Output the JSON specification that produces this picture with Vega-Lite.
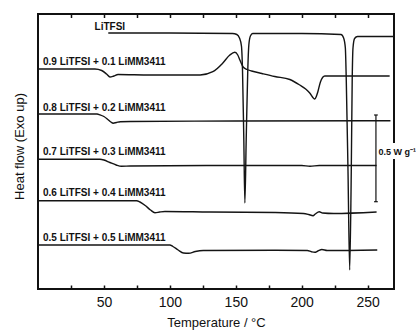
{
  "$schema": "https://vega.github.io/schema/vega-lite/v6.json",
  "width": 356,
  "height": 275,
  "autosize": "none",
  "padding": {"left": 38, "top": 14, "right": 22, "bottom": 42},
  "background": "white",
  "config": {
    "view": {"stroke": "#111", "strokeWidth": 2},
    "font": "Liberation Sans",
    "axisY": {"labels": false, "ticks": false, "domain": false, "grid": false, "titleFontSize": 13, "titleFontWeight": "normal", "titleColor": "#111", "titleFont": "Liberation Sans", "titlePadding": 12, "titleY": 132}
  },
  "datasets": {
    "curves": [
      {"s": "LiTFSI", "t": 53.3, "hf": 256}, {"s": "LiTFSI", "t": 100, "hf": 256}, {"s": "LiTFSI", "t": 147.5, "hf": 255.5},
      {"s": "LiTFSI", "t": 150.8, "hf": 254.5}, {"s": "LiTFSI", "t": 152.8, "hf": 251}, {"s": "LiTFSI", "t": 154.3, "hf": 243},
      {"s": "LiTFSI", "t": 155.1, "hf": 219}, {"s": "LiTFSI", "t": 156.1, "hf": 149}, {"s": "LiTFSI", "t": 156.9, "hf": 86},
      {"s": "LiTFSI", "t": 157.9, "hf": 149}, {"s": "LiTFSI", "t": 159.1, "hf": 219}, {"s": "LiTFSI", "t": 159.9, "hf": 244},
      {"s": "LiTFSI", "t": 161.1, "hf": 253}, {"s": "LiTFSI", "t": 162.8, "hf": 255.5}, {"s": "LiTFSI", "t": 200, "hf": 255.5},
      {"s": "LiTFSI", "t": 229.8, "hf": 254.5}, {"s": "LiTFSI", "t": 231.8, "hf": 251}, {"s": "LiTFSI", "t": 233.1, "hf": 241},
      {"s": "LiTFSI", "t": 233.8, "hf": 209}, {"s": "LiTFSI", "t": 235.1, "hf": 119}, {"s": "LiTFSI", "t": 236.4, "hf": 19},
      {"s": "LiTFSI", "t": 237.6, "hf": 119}, {"s": "LiTFSI", "t": 238.3, "hf": 209}, {"s": "LiTFSI", "t": 238.9, "hf": 241},
      {"s": "LiTFSI", "t": 240.1, "hf": 250.5}, {"s": "LiTFSI", "t": 242.3, "hf": 252.5}, {"s": "LiTFSI", "t": 270, "hf": 252.5},

      {"s": "0.9", "t": 0, "hf": 220}, {"s": "0.9", "t": 43.2, "hf": 220}, {"s": "0.9", "t": 48.3, "hf": 218.5},
      {"s": "0.9", "t": 52, "hf": 215}, {"s": "0.9", "t": 54.6, "hf": 212}, {"s": "0.9", "t": 57.5, "hf": 213},
      {"s": "0.9", "t": 60.7, "hf": 214.5}, {"s": "0.9", "t": 85, "hf": 214}, {"s": "0.9", "t": 123, "hf": 214},
      {"s": "0.9", "t": 132.6, "hf": 217.3}, {"s": "0.9", "t": 140.2, "hf": 226}, {"s": "0.9", "t": 145.5, "hf": 234},
      {"s": "0.9", "t": 149.3, "hf": 236.7}, {"s": "0.9", "t": 151.5, "hf": 234}, {"s": "0.9", "t": 153.1, "hf": 229},
      {"s": "0.9", "t": 155.6, "hf": 222}, {"s": "0.9", "t": 158.5, "hf": 219.5}, {"s": "0.9", "t": 162, "hf": 218},
      {"s": "0.9", "t": 169.8, "hf": 215.5}, {"s": "0.9", "t": 179.6, "hf": 212.5}, {"s": "0.9", "t": 191, "hf": 209.5},
      {"s": "0.9", "t": 198.5, "hf": 204}, {"s": "0.9", "t": 203, "hf": 200}, {"s": "0.9", "t": 206.1, "hf": 196},
      {"s": "0.9", "t": 209.9, "hf": 190}, {"s": "0.9", "t": 211.2, "hf": 193}, {"s": "0.9", "t": 212.2, "hf": 197},
      {"s": "0.9", "t": 214.2, "hf": 207}, {"s": "0.9", "t": 217.5, "hf": 213}, {"s": "0.9", "t": 225, "hf": 213},
      {"s": "0.9", "t": 266.7, "hf": 213},

      {"s": "0.8", "t": 0, "hf": 175}, {"s": "0.8", "t": 44.8, "hf": 175}, {"s": "0.8", "t": 47, "hf": 174.2},
      {"s": "0.8", "t": 50, "hf": 172.5}, {"s": "0.8", "t": 53, "hf": 169.5}, {"s": "0.8", "t": 55.3, "hf": 167},
      {"s": "0.8", "t": 57, "hf": 165.8}, {"s": "0.8", "t": 59.5, "hf": 166.5}, {"s": "0.8", "t": 62.3, "hf": 167.3},
      {"s": "0.8", "t": 70, "hf": 167.5}, {"s": "0.8", "t": 150, "hf": 168}, {"s": "0.8", "t": 267.3, "hf": 168.3},

      {"s": "0.7", "t": 0, "hf": 129.7}, {"s": "0.7", "t": 47, "hf": 129.7}, {"s": "0.7", "t": 50, "hf": 129},
      {"s": "0.7", "t": 54.5, "hf": 126.5}, {"s": "0.7", "t": 59.3, "hf": 124}, {"s": "0.7", "t": 63.3, "hf": 122.7},
      {"s": "0.7", "t": 70, "hf": 123}, {"s": "0.7", "t": 150, "hf": 123.5}, {"s": "0.7", "t": 200, "hf": 123.5},
      {"s": "0.7", "t": 206.3, "hf": 122.7}, {"s": "0.7", "t": 213.3, "hf": 123.5}, {"s": "0.7", "t": 256.8, "hf": 123.5},

      {"s": "0.6", "t": 0, "hf": 88.3}, {"s": "0.6", "t": 74.8, "hf": 88.3}, {"s": "0.6", "t": 77.3, "hf": 87},
      {"s": "0.6", "t": 81.3, "hf": 83.5}, {"s": "0.6", "t": 85.3, "hf": 79}, {"s": "0.6", "t": 88.7, "hf": 76.3},
      {"s": "0.6", "t": 92.3, "hf": 77}, {"s": "0.6", "t": 96.3, "hf": 77.5}, {"s": "0.6", "t": 130, "hf": 77},
      {"s": "0.6", "t": 180, "hf": 76.5}, {"s": "0.6", "t": 201.3, "hf": 75.5}, {"s": "0.6", "t": 205.3, "hf": 74.5},
      {"s": "0.6", "t": 208.6, "hf": 73.3}, {"s": "0.6", "t": 210.3, "hf": 75}, {"s": "0.6", "t": 213.3, "hf": 77.3},
      {"s": "0.6", "t": 215.8, "hf": 76}, {"s": "0.6", "t": 224.3, "hf": 75.5}, {"s": "0.6", "t": 256.8, "hf": 77},

      {"s": "0.5", "t": 0, "hf": 44}, {"s": "0.5", "t": 100, "hf": 44}, {"s": "0.5", "t": 102.3, "hf": 42.5},
      {"s": "0.5", "t": 106.3, "hf": 39}, {"s": "0.5", "t": 110.3, "hf": 36}, {"s": "0.5", "t": 114.3, "hf": 35.7},
      {"s": "0.5", "t": 119.3, "hf": 37.5}, {"s": "0.5", "t": 125.3, "hf": 38.5}, {"s": "0.5", "t": 180, "hf": 38.7},
      {"s": "0.5", "t": 204.3, "hf": 38.5}, {"s": "0.5", "t": 207.3, "hf": 37.3}, {"s": "0.5", "t": 209.9, "hf": 36.7},
      {"s": "0.5", "t": 212.3, "hf": 38}, {"s": "0.5", "t": 215.3, "hf": 39.5}, {"s": "0.5", "t": 219.3, "hf": 38.5},
      {"s": "0.5", "t": 257.3, "hf": 39}
    ],
    "labels": [
      {"txt": "LiTFSI", "t": 42.9, "hf": 262.5},
      {"txt": "0.9 LiTFSI + 0.1 LiMM3411", "t": 3.8, "hf": 227.3},
      {"txt": "0.8 LiTFSI + 0.2 LiMM3411", "t": 3.8, "hf": 180.7},
      {"txt": "0.7 LiTFSI + 0.3 LiMM3411", "t": 3.8, "hf": 137.3},
      {"txt": "0.6 LiTFSI + 0.4 LiMM3411", "t": 3.8, "hf": 95.7},
      {"txt": "0.5 LiTFSI + 0.5 LiMM3411", "t": 3.8, "hf": 51.3}
    ],
    "bar": [{"t": 256.3, "lo": 87.3, "hi": 174}],
    "caps": [{"t1": 254.9, "t2": 257.7, "v": 87.3}, {"t1": 254.9, "t2": 257.7, "v": 174}],
    "patch": [{"a": 258.6, "b": 283, "lo": 130, "hi": 146}],
    "barlabel": [{"txt": "0.5 W g⁻¹", "t": 258.2, "hf": 137}]
  },
  "layer": [
    {
      "data": {"name": "curves"},
      "mark": {"type": "line", "color": "#141414", "strokeWidth": 1.4, "interpolate": "monotone"},
      "encoding": {
        "x": {
          "field": "t", "type": "quantitative",
          "scale": {"domain": [0, 270], "nice": false, "zero": false},
          "axis": {
            "orient": "bottom",
            "values": [25, 50, 75, 100, 125, 150, 175, 200, 225, 250],
            "labelExpr": "datum.value % 50 === 0 ? datum.label : ''",
            "domain": false, "grid": false,
            "tickSize": -4,
            "tickColor": "#111", "tickWidth": 1.5,
            "labelFontSize": 14, "labelColor": "#111", "labelFont": "Liberation Sans", "labelPadding": 10,
            "title": "Temperature / °C", "titleFontSize": 13, "titleFontWeight": "normal",
            "titleColor": "#111", "titleFont": "Liberation Sans", "titleY": 27
          }
        },
        "y": {"field": "hf", "type": "quantitative", "title": "Heat flow (Exo up)", "scale": {"domain": [0, 275], "nice": false, "zero": false}},
        "detail": {"field": "s"}
      }
    },
    {
      "data": {"name": "labels"},
      "mark": {"type": "text", "align": "left", "baseline": "middle", "fontSize": 10, "fontWeight": "bold", "color": "#111", "font": "Liberation Sans"},
      "encoding": {
        "x": {"field": "t", "type": "quantitative", "scale": {"domain": [0, 270], "nice": false, "zero": false}, "axis": null},
        "y": {"field": "hf", "type": "quantitative", "title": "Heat flow (Exo up)", "scale": {"domain": [0, 275], "nice": false, "zero": false}},
        "text": {"field": "txt"}
      }
    },
    {
      "data": {"name": "bar"},
      "mark": {"type": "rule", "color": "#111", "strokeWidth": 1.2},
      "encoding": {
        "x": {
          "field": "t", "type": "quantitative", "scale": {"domain": [0, 270], "nice": false, "zero": false},
          "axis": {
            "orient": "top", "values": [25, 50, 75, 100, 125, 150, 175, 200, 225, 250],
            "labels": false, "domain": false, "grid": false, "tickSize": -3.5,
            "tickColor": "#111", "tickWidth": 1.5, "title": null
          }
        },
        "y": {"field": "lo", "type": "quantitative", "title": "Heat flow (Exo up)", "scale": {"domain": [0, 275], "nice": false, "zero": false}},
        "y2": {"field": "hi"}
      }
    },
    {
      "data": {"name": "caps"},
      "mark": {"type": "rule", "color": "#111", "strokeWidth": 1.2},
      "encoding": {
        "x": {"field": "t1", "type": "quantitative", "scale": {"domain": [0, 270], "nice": false, "zero": false}, "axis": null},
        "x2": {"field": "t2"},
        "y": {"field": "v", "type": "quantitative", "title": "Heat flow (Exo up)", "scale": {"domain": [0, 275], "nice": false, "zero": false}}
      }
    },
    {
      "data": {"name": "patch"},
      "mark": {"type": "rect", "color": "white"},
      "encoding": {
        "x": {"field": "a", "type": "quantitative", "scale": {"domain": [0, 270], "nice": false, "zero": false}, "axis": null},
        "x2": {"field": "b"},
        "y": {"field": "lo", "type": "quantitative", "title": "Heat flow (Exo up)", "scale": {"domain": [0, 275], "nice": false, "zero": false}},
        "y2": {"field": "hi"}
      }
    },
    {
      "data": {"name": "barlabel"},
      "mark": {"type": "text", "align": "left", "baseline": "middle", "fontSize": 9, "fontWeight": "bold", "color": "#111", "font": "Liberation Sans"},
      "encoding": {
        "x": {"field": "t", "type": "quantitative", "scale": {"domain": [0, 270], "nice": false, "zero": false}, "axis": null},
        "y": {"field": "hf", "type": "quantitative", "title": "Heat flow (Exo up)", "scale": {"domain": [0, 275], "nice": false, "zero": false}},
        "text": {"field": "txt"}
      }
    }
  ],
  "resolve": {"axis": {"x": "independent"}}
}
